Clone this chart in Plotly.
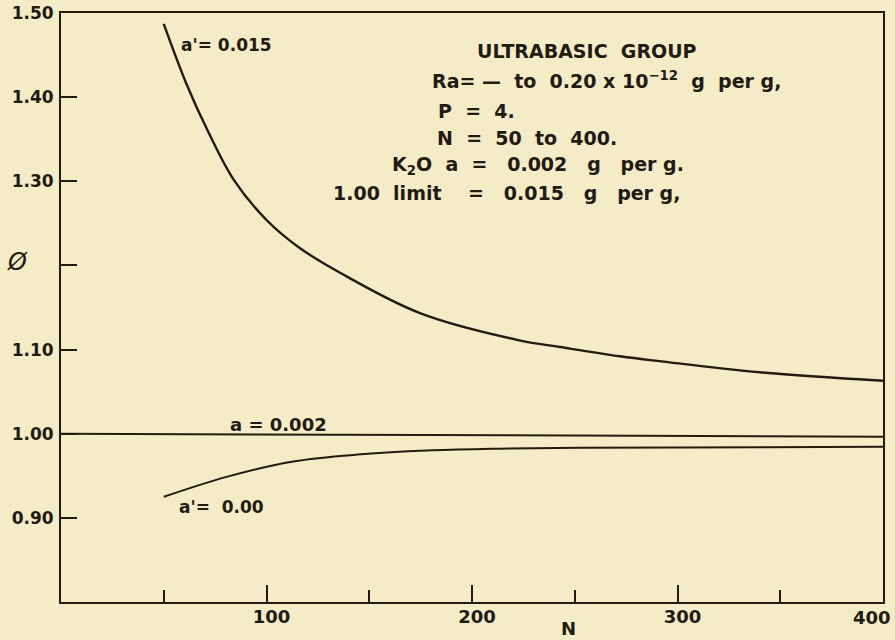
import plotly.graph_objects as go

# ---- data ----
n_upper = [50, 61, 72, 84, 100, 116, 136, 175, 223, 243, 272, 292, 340, 400]
phi_upper = [1.487, 1.416, 1.357, 1.302, 1.254, 1.221, 1.191, 1.143, 1.111, 1.103, 1.092, 1.086, 1.073, 1.063]

n_mid = [0, 200, 400]
phi_mid = [1.000, 0.9985, 0.9965]

n_lower = [50, 81, 113, 146, 178, 210, 253, 340, 400]
phi_lower = [0.925, 0.949, 0.967, 0.9755, 0.980, 0.982, 0.9834, 0.9838, 0.9846]

x_tickvals = [100, 200, 300, 400]
x_ticktext = ["100", "200", "300", "400"]
y_tickvals = [0.90, 1.00, 1.10, 1.30, 1.40, 1.50]
y_ticktext = ["0.90", "1.00", "1.10", "1.30", "1.40", "1.50"]

BG = "#f4ecc6"
INK = "#211b14"
FONT = "DejaVu Sans"

# plot area in pixels (for placing free text)
L, R, T, B = 61, 883, 13, 602


def px(x):
    return (x - L) / (R - L)


def py(y):
    return (B - y) / (B - T)


fig = go.Figure()
fig.add_trace(go.Scatter(x=n_upper, y=phi_upper, mode="lines",
                         line=dict(color=INK, width=2.4, shape="spline", smoothing=1.0),
                         hoverinfo="skip", showlegend=False))
fig.add_trace(go.Scatter(x=n_mid, y=phi_mid, mode="lines",
                         line=dict(color=INK, width=2),
                         hoverinfo="skip", showlegend=False))
fig.add_trace(go.Scatter(x=n_lower, y=phi_lower, mode="lines",
                         line=dict(color=INK, width=2, shape="spline", smoothing=1.0),
                         hoverinfo="skip", showlegend=False))


def bold(s):
    return dict(family=FONT, size=s, color=INK, weight="bold")


labels = [
    ("a'= 0.015", 179, 45, 17),
    ("a = 0.002", 228, 424, 18),
    ("a'=  0.00", 177, 507, 17),
    ("ULTRABASIC  GROUP", 475, 51, 19),
    ("Ra= \u2014  to  0.20 x 10<sup>\u221212</sup>  g  per g,", 430, 80, 19),
    ("P  =  4.", 436, 111, 19),
    ("N  =  50  to  400.", 435, 138, 19),
    ("K<sub>2</sub>O  a  =   0.002   g   per g.", 390, 165, 19),
    ("1.00  limit    =   0.015   g   per g,", 331, 193, 19),
]
for txt, x, y, s in labels:
    fig.add_annotation(text=txt, x=px(x), y=py(y), xref="paper", yref="paper",
                       xanchor="left", yanchor="middle", showarrow=False,
                       font=bold(s))

fig.add_annotation(text="\u00d8", x=px(17), y=py(262), xref="paper", yref="paper",
                   xanchor="center", yanchor="middle", showarrow=False,
                   font=dict(family=FONT, size=24, color=INK, style="italic"))
fig.add_annotation(text="N", x=px(568), y=py(628), xref="paper", yref="paper",
                   xanchor="center", yanchor="middle", showarrow=False,
                   font=bold(18))
# the last x label sits just inside the right frame edge
fig.add_annotation(text=x_ticktext[-1], x=px(872), y=py(617), xref="paper", yref="paper",
                   xanchor="center", yanchor="middle", showarrow=False,
                   font=bold(18))

fig.update_xaxes(range=[0, 400], tickvals=x_tickvals[:-1],
                 ticktext=x_ticktext[:-1],
                 ticks="inside", ticklen=17, tickwidth=2, tickcolor=INK,
                 minor=dict(tick0=0, dtick=50, ticks="inside", ticklen=12,
                            tickwidth=2, tickcolor=INK, showgrid=False),
                 ticklabelshift=5, ticklabelstandoff=-3,
                 showline=True, linecolor=INK, linewidth=2, mirror=True,
                 showgrid=False, zeroline=False, tickfont=bold(18),
                 automargin=False)
fig.update_yaxes(range=[0.80, 1.50], tickvals=y_tickvals, ticktext=y_ticktext,
                 ticks="inside", ticklen=16, tickwidth=2, tickcolor=INK,
                 minor=dict(tick0=0.8, dtick=0.1, ticks="inside", ticklen=16,
                            tickwidth=2, tickcolor=INK, showgrid=False),
                 ticklabelstandoff=2,
                 showline=True, linecolor=INK, linewidth=2, mirror=True,
                 showgrid=False, zeroline=False, tickfont=bold(17),
                 automargin=False)

fig.update_layout(width=895, height=640, paper_bgcolor=BG, plot_bgcolor=BG,
                  margin=dict(l=L, r=895 - R, t=T, b=640 - B),
                  showlegend=False)

fig.write_html("out.html", config={"displayModeBar": False},
               post_script="document.body.style.margin='0';document.body.style.background='%s';" % BG)
